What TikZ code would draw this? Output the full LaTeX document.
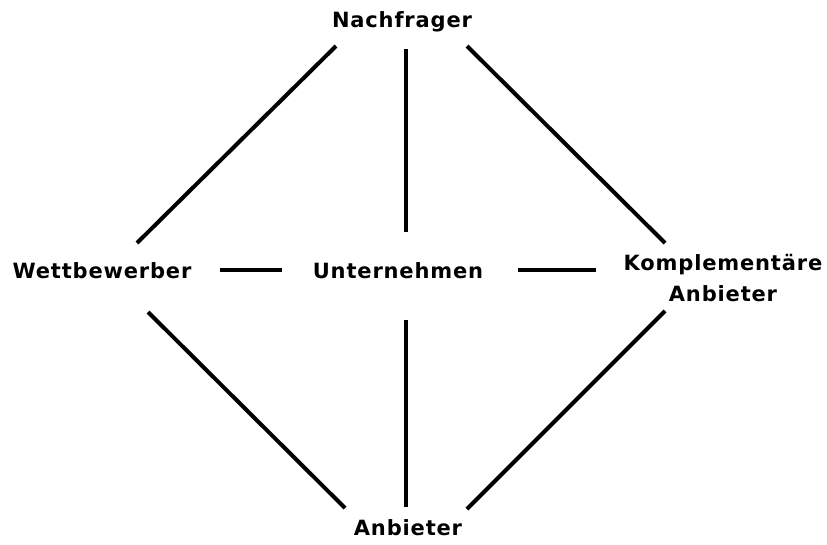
\documentclass[tikz,border=0pt]{standalone}
\usepackage{fontspec}
\newfontfamily\labelfont{DejaVu Sans Bold}[LetterSpace=4]
\begin{document}
\begin{tikzpicture}[x=1pt,y=-1pt,
  label/.style={font=\labelfont\fontsize{21}{31}\selectfont, inner sep=0pt, anchor=base, align=center},
  link/.style={line width=4pt, black}]
\useasboundingbox (0,0) rectangle (827,544);

% actors
\node[label] (N) at (402,27) {Nachfrager};
\node[label] (W) at (102,278) {Wettbewerber};
\node[label] (U) at (398,278) {Unternehmen};
\node[label] (K) at (723,301) {Komplementäre\\Anbieter};
\node[label] (A) at (408,535) {Anbieter};

% end points of the relations
\coordinate (nw) at (336,46);  \coordinate (wn) at (137,243);
\coordinate (nu) at (406,49);  \coordinate (un) at (406,232);
\coordinate (nk) at (467,46);  \coordinate (kn) at (665,243);
\coordinate (wu) at (220,270); \coordinate (uw) at (282,270);
\coordinate (uk) at (518,270); \coordinate (ku) at (596,270);
\coordinate (wa) at (148,312); \coordinate (aw) at (345,508);
\coordinate (ua) at (406,320); \coordinate (au) at (406,507);
\coordinate (ka) at (665,311); \coordinate (ak) at (467,509);

% relations
\draw[link] (nw) -- (wn);
\draw[link] (nu) -- (un);
\draw[link] (nk) -- (kn);
\draw[link] (wu) -- (uw);
\draw[link] (uk) -- (ku);
\draw[link] (wa) -- (aw);
\draw[link] (ua) -- (au);
\draw[link] (ka) -- (ak);
\end{tikzpicture}
\end{document}
